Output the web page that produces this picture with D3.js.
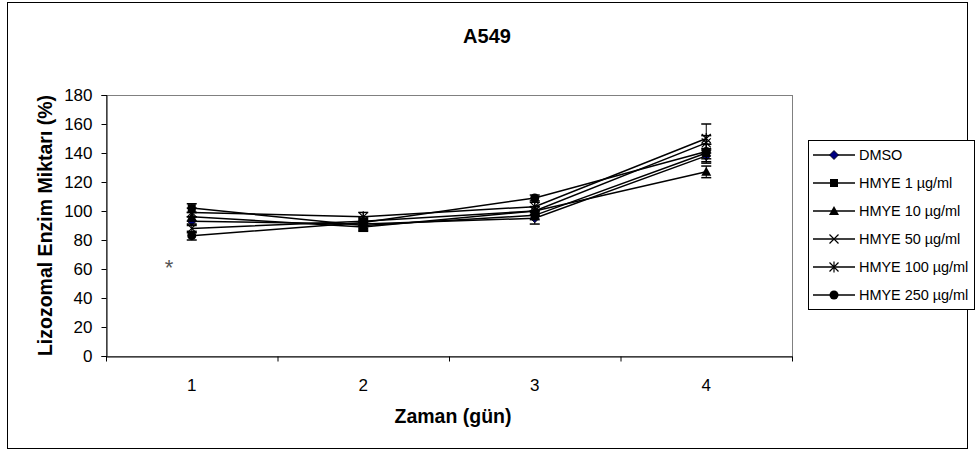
<!DOCTYPE html>
<html><head><meta charset="utf-8">
<script src="https://cdn.jsdelivr.net/npm/d3@7"></script>
<style>body{margin:0;background:#fff}svg{display:block;font-family:Arial,"Liberation Sans",sans-serif}</style>
</head><body><svg id="c" width="975" height="452"></svg>
<script>
const days = ["1", "2", "3", "4"];
const seriesNames = ["DMSO", "HMYE 1 µg/ml", "HMYE 10 µg/ml", "HMYE 50 µg/ml", "HMYE 100 µg/ml", "HMYE 250 µg/ml"];
const dmso   = [93, 91, 95, 138];
const hmye1  = [102, 90, 97, 140];
const hmye10 = [96, 89, 100, 127];
const hmye50 = [88, 93, 100, 147];
const hmye100 = [99, 96, 103, 150];
const hmye250 = [83, 92, 109, 141];
const errDmso   = [3, 3, 4, 5];
const errHmye1  = [3, 3, 3, 6];
const errHmye10 = [3, 3, 3, 4];
const errHmye50 = [3, 3, 3, 5];
const errHmye100 = [3, 3, 3, 10];
const errHmye250 = [3, 3, 2, 5];
const yTicks = [0, 20, 40, 60, 80, 100, 120, 140, 160, 180];
const markers = ["diamond", "square", "triangle", "x", "star", "circle"];

const values = [dmso, hmye1, hmye10, hmye50, hmye100, hmye250];
const errors = [errDmso, errHmye1, errHmye10, errHmye50, errHmye100, errHmye250];

const FONT = "Arial, 'Liberation Sans', sans-serif";
const svg = d3.select("#c");
const L = 106, R = 792, T = 95, B = 356;
const x = d3.scaleBand().domain(days).range([L, R]);
const y = d3.scaleLinear().domain([0, 180]).range([B, T]);

// outer border
svg.append("rect").attr("x", 7.5).attr("y", 2.5).attr("width", 960).attr("height", 446)
  .attr("fill", "#fff").attr("stroke", "#000").attr("stroke-width", 1);
// plot area border
svg.append("rect").attr("x", L + 0.5).attr("y", T + 0.5).attr("width", R - L).attr("height", B - T)
  .attr("fill", "none").attr("stroke", "#808080").attr("stroke-width", 1);

// title
svg.append("text").attr("x", 487).attr("y", 43).attr("text-anchor", "middle")
  .attr("font-size", 20).attr("font-weight", "bold").text("A549");

// y axis
const yAxis = d3.axisLeft(y).tickValues(yTicks).tickSize(5).tickPadding(9);
const gy = svg.append("g").attr("transform", `translate(${L + 0.5},0)`).call(yAxis);
gy.select(".domain").attr("stroke", "#000");
gy.selectAll(".tick line").attr("stroke", "#000");
gy.selectAll("text").attr("font-size", 17).attr("fill", "#000").attr("font-family", FONT);

// x axis
const xAxis = d3.axisBottom(x).tickSize(0).tickPadding(22);
const gx = svg.append("g").attr("transform", `translate(0,${B + 0.5})`).call(xAxis);
gx.select(".domain").attr("stroke", "#000");
gx.selectAll("text").attr("font-size", 17).attr("fill", "#000").attr("font-family", FONT);
const bounds = days.map(d => x(d)).concat([R]);
gx.selectAll(".bt").data(bounds).enter().append("line").attr("class", "bt")
  .attr("x1", d => d + 0.5).attr("x2", d => d + 0.5).attr("y1", 0).attr("y2", 5).attr("stroke", "#000");

// axis titles
svg.append("text").attr("transform", `translate(52,${(T + B) / 2}) rotate(-90)`)
  .attr("text-anchor", "middle").attr("font-size", 19.5).attr("font-weight", "bold").text("Lizozomal Enzim Miktarı (%)");
svg.append("text").attr("x", (L + R) / 2 + 4).attr("y", 423).attr("text-anchor", "middle")
  .attr("font-size", 19.5).attr("font-weight", "bold").text("Zaman (gün)");

// asterisk annotation
svg.append("text").attr("x", 169).attr("y", 275).attr("text-anchor", "middle")
  .attr("font-size", 22).attr("fill", "#555").text("*");

const cx = d => x(d) + x.bandwidth() / 2;

function drawMarker(g, type, px, py) {
  const s = 4.5;
  if (type === "diamond") {
    g.append("path").attr("d", `M${px},${py - s}L${px + s},${py}L${px},${py + s}L${px - s},${py}Z`)
      .attr("fill", "#000080").attr("stroke", "#000").attr("stroke-width", 0.8);
  } else if (type === "square") {
    g.append("rect").attr("x", px - 4).attr("y", py - 4).attr("width", 8).attr("height", 8).attr("fill", "#000");
  } else if (type === "triangle") {
    g.append("path").attr("d", `M${px},${py - 5}L${px + 5},${py + 4}L${px - 5},${py + 4}Z`).attr("fill", "#000");
  } else if (type === "x") {
    g.append("path").attr("d", `M${px - 4.5},${py - 4.5}L${px + 4.5},${py + 4.5}M${px - 4.5},${py + 4.5}L${px + 4.5},${py - 4.5}`)
      .attr("stroke", "#000").attr("stroke-width", 1.2);
  } else if (type === "star") {
    g.append("path").attr("d", `M${px - 4.5},${py - 4.5}L${px + 4.5},${py + 4.5}M${px - 4.5},${py + 4.5}L${px + 4.5},${py - 4.5}M${px},${py - 5.5}L${px},${py + 5.5}`)
      .attr("stroke", "#000").attr("stroke-width", 1.2);
  } else if (type === "circle") {
    g.append("circle").attr("cx", px).attr("cy", py).attr("r", 4.5).attr("fill", "#000");
  }
}

const line = d3.line().x((d, i) => cx(days[i])).y(d => y(d));
const plot = svg.append("g");
values.forEach((vals, si) => {
  const g = plot.append("g");
  vals.forEach((v, i) => {
    const px = cx(days[i]), e = errors[si][i];
    g.append("line").attr("x1", px).attr("x2", px).attr("y1", y(v - e)).attr("y2", y(v + e)).attr("stroke", "#000").attr("stroke-width", 1);
    [v - e, v + e].forEach(w => g.append("line").attr("x1", px - 5).attr("x2", px + 5).attr("y1", y(w)).attr("y2", y(w)).attr("stroke", "#000").attr("stroke-width", 1.5));
  });
  g.append("path").datum(vals).attr("d", line).attr("fill", "none").attr("stroke", "#000").attr("stroke-width", 1.5);
  vals.forEach((v, i) => drawMarker(g, markers[si], cx(days[i]), y(v)));
});

// legend
const lg = svg.append("g");
lg.append("rect").attr("x", 808.5).attr("y", 140.5).attr("width", 166).attr("height", 169)
  .attr("fill", "#fff").attr("stroke", "#000").attr("stroke-width", 1);
seriesNames.forEach((name, i) => {
  const ly = 155 + i * 28;
  lg.append("line").attr("x1", 813).attr("x2", 855).attr("y1", ly).attr("y2", ly).attr("stroke", "#000").attr("stroke-width", 1.5);
  drawMarker(lg, markers[i], 834, ly);
  lg.append("text").attr("x", 859).attr("y", ly + 5).attr("font-size", 14.5).attr("letter-spacing", -0.05).text(name);
});
</script></body></html>
